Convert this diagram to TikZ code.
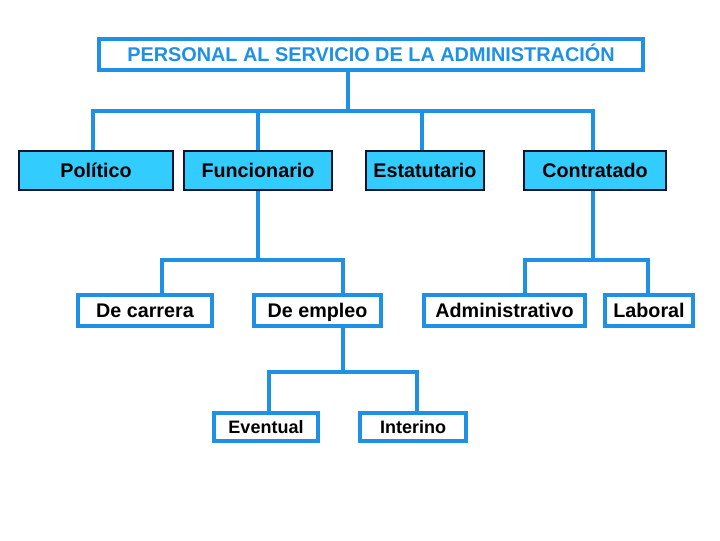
\documentclass[tikz,border=0pt]{standalone}
\usepackage{fontspec}
\setmainfont{Liberation Sans}
\usetikzlibrary{backgrounds}
\definecolor{lineblue}{RGB}{30,144,230}
\definecolor{fillcyan}{RGB}{51,204,255}
\definecolor{darkedge}{RGB}{10,20,50}
\def\pxu{0.75pt}
\tikzset{
  conn/.style={draw=lineblue, line width=3pt, line cap=rect},
  boxtext/.style={inner sep=0pt, text height=10.6pt, text depth=0pt},
  titlebox/.style={boxtext, draw=lineblue, fill=white, line width=3pt,
    text=lineblue, font=\fontsize{14.9}{18}\bfseries\selectfont},
  catbox/.style={boxtext, draw=darkedge, fill=fillcyan, line width=0.8pt,
    minimum height=39*\pxu, font=\fontsize{14.8}{18}\bfseries\selectfont},
  subbox/.style={boxtext, draw=lineblue, fill=white, line width=3pt,
    minimum height=31*\pxu, font=\fontsize{14.8}{18}\bfseries\selectfont},
  leafbox/.style={boxtext, text height=9.7pt, draw=lineblue, fill=white, line width=3pt,
    minimum height=28*\pxu, font=\fontsize{13.5}{16}\bfseries\selectfont}
}
\begin{document}
\begin{tikzpicture}[x=0.75pt,y=-0.75pt]
\useasboundingbox (0,0) rectangle (720,540);
% nodes
\node[titlebox, minimum width=544*\pxu, minimum height=31*\pxu] (top) at (371,54.5) {PERSONAL AL SERVICIO DE LA ADMINISTRACIÓN};
\node[catbox, minimum width=154*\pxu] (pol) at (96,170.5) {Político};
\node[catbox, minimum width=148*\pxu] (fun) at (258,170.5) {Funcionario};
\node[catbox, minimum width=118*\pxu] (est) at (425,170.5) {Estatutario};
\node[catbox, minimum width=142*\pxu] (con) at (595,170.5) {Contratado};
\node[subbox, minimum width=134*\pxu] (car) at (145,310.5) {De carrera};
\node[subbox, minimum width=127*\pxu] (emp) at (317.5,310.5) {De empleo};
\node[subbox, minimum width=161*\pxu] (adm) at (504.5,310.5) {Administrativo};
\node[subbox, minimum width=88*\pxu] (lab) at (649,310.5) {Laboral};
\node[leafbox, minimum width=104*\pxu] (eve) at (266,427) {Eventual};
\node[leafbox, minimum width=106*\pxu] (int) at (413,427) {Interino};
% bus coordinates
\coordinate (b0) at (348,111);
\coordinate (bpol) at (93,111);
\coordinate (bfun) at (258,111);
\coordinate (best) at (422,111);
\coordinate (bcon) at (593,111);
\coordinate (f0) at (258,260);
\coordinate (fcar) at (162,260);
\coordinate (femp) at (343,260);
\coordinate (c0) at (593,260);
\coordinate (cadm) at (525,260);
\coordinate (clab) at (648,260);
\coordinate (e0) at (343,372);
\coordinate (eeve) at (269,372);
\coordinate (eint) at (417,372);
\begin{scope}[on background layer]
\draw[conn] (top.south -| b0) -- (b0);
\draw[conn] (bpol) -- (bcon);
\draw[conn] (bpol) -- (bpol |- pol.north);
\draw[conn] (bfun) -- (bfun |- fun.north);
\draw[conn] (best) -- (best |- est.north);
\draw[conn] (bcon) -- (bcon |- con.north);
\draw[conn] (fun.south) -- (f0);
\draw[conn] (fcar) -- (femp);
\draw[conn] (fcar) -- (fcar |- car.north);
\draw[conn] (femp) -- (femp |- emp.north);
\draw[conn] (con.south -| c0) -- (c0);
\draw[conn] (cadm) -- (clab);
\draw[conn] (cadm) -- (cadm |- adm.north);
\draw[conn] (clab) -- (clab |- lab.north);
\draw[conn] (emp.south -| e0) -- (e0);
\draw[conn] (eeve) -- (eint);
\draw[conn] (eeve) -- (eeve |- eve.north);
\draw[conn] (eint) -- (eint |- int.north);
\end{scope}
\end{tikzpicture}
\end{document}
